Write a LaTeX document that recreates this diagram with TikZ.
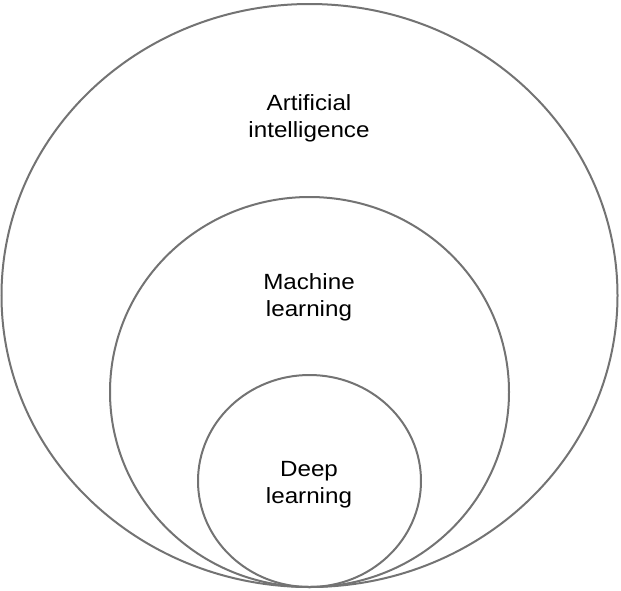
\documentclass[tikz,border=0pt]{standalone}
\usepackage{fontspec}
\setmainfont{Liberation Sans}[FakeStretch=1.1]
\begin{document}
\begin{tikzpicture}[x=1pt,y=-1pt,
  ring/.style={draw=black!55, line width=2pt},
  lbl/.style={align=center, inner sep=0pt, font=\fontsize{22}{27}\selectfont}]
\useasboundingbox (0,0) rectangle (621,590);
\draw[ring] (309.5,295.5) ellipse [x radius=308, y radius=291.5];
\draw[ring] (309.5,392) ellipse [x radius=199.5, y radius=195];
\draw[ring] (309.5,481) ellipse [x radius=111.5, y radius=106];
\node[lbl] (ai) at (309,118.5) {Artificial\\intelligence};
\node[lbl] (ml) at (309,297.5) {Machine\\learning};
\node[lbl] (dl) at (309,485) {Deep\\learning};
\end{tikzpicture}
\end{document}
